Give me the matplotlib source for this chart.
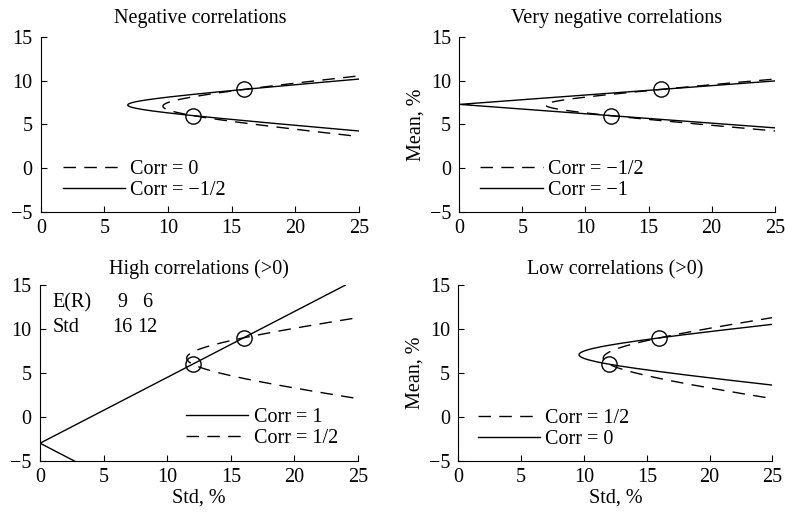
import matplotlib
matplotlib.use("Agg")
import matplotlib.pyplot as plt
import numpy as np

plt.rcParams['font.family'] = ['Liberation Serif', 'DejaVu Serif']

# Two assets: expected returns and standard deviations (%)
asset_means = [9, 6]
asset_stds = [16, 12]

# weight on asset 1 (rest in asset 2)
weights = np.linspace(-4, 3, 4001)

titles = ["Negative correlations", "Very negative correlations",
          "High correlations (>0)", "Low correlations (>0)"]
# (correlation, label, style) per panel, in legend order
panel_corrs = [
    [(0.0, "Corr = 0", "dashed"), (-0.5, "Corr = \u22121/2", "solid")],
    [(-0.5, "Corr = \u22121/2", "dashed"), (-1.0, "Corr = \u22121", "solid")],
    [(1.0, "Corr = 1", "solid"), (0.5, "Corr = 1/2", "dashed")],
    [(0.5, "Corr = 1/2", "dashed"), (0.0, "Corr = 0", "solid")],
]
legend_locs = ["lower left", "lower left", "lower right", "lower left"]
legend_anchor = [(0.041, 0.017), (0.038, 0.017), (0.965, 0.023), (0.032, 0.017)]


def frontier(rho):
    m1, m2 = asset_means
    s1, s2 = asset_stds
    w = weights
    mean = w * m1 + (1 - w) * m2
    var = (w * s1) ** 2 + ((1 - w) * s2) ** 2 + 2 * rho * w * (1 - w) * s1 * s2
    return np.sqrt(np.clip(var, 0, None)), mean


fs = 14.5
fig = plt.figure(figsize=(7.85, 5.12), dpi=100)
boxes = [[0.052, 0.586, 0.405, 0.342], [0.585, 0.586, 0.402, 0.342],
         [0.051, 0.100, 0.405, 0.343], [0.584, 0.100, 0.400, 0.343]]

dash = (0, (9, 6))
for i, box in enumerate(boxes):
    ax = fig.add_axes(box)
    for rho, lab, style in panel_corrs[i]:
        sd, mu = frontier(rho)
        ls = dash if style == "dashed" else "-"
        ax.plot(sd, mu, color='black', lw=1.0, linestyle=ls, label=lab)
    ax.plot(asset_stds, asset_means, 'o', ms=11, mfc='none', mec='black', mew=1.0)
    ax.set_xlim(0, 25)
    ax.set_ylim(-5, 15)
    ax.set_xticks([0, 5, 10, 15, 20, 25])
    ax.set_yticks([-5, 0, 5, 10, 15])
    ax.spines['top'].set_visible(False)
    ax.spines['right'].set_visible(False)
    ax.tick_params(direction='in', length=4, labelsize=fs, width=0.8)
    ax.tick_params(axis='x', pad=5)
    ax.tick_params(axis='y', pad=6)
    ax.set_title(titles[i], fontsize=fs, pad=10 if i < 2 else 8)
    if i % 2 == 1:
        ax.set_ylabel("Mean, %", fontsize=fs, labelpad=3)
    if i >= 2:
        ax.set_xlabel("Std, %", fontsize=fs, labelpad=1)
    ax.legend(loc=legend_locs[i], bbox_to_anchor=legend_anchor[i],
              frameon=False, fontsize=fs,
              handlelength=3.1, handletextpad=0.25, labelspacing=0.08,
              borderaxespad=0.15, borderpad=0.3)
    if i == 2:
        ax.text(1.0, 13.0, "E(R)", fontsize=fs, va='center')
        ax.text(1.0, 10.2, "Std", fontsize=fs, va='center')
        for x, m, s in zip([6.5, 8.4], asset_means, asset_stds):
            ax.text(x, 13.0, str(m), fontsize=fs, va='center', ha='center')
            ax.text(x, 10.2, str(s), fontsize=fs, va='center', ha='center')

fig.savefig("out.png", dpi=100)
